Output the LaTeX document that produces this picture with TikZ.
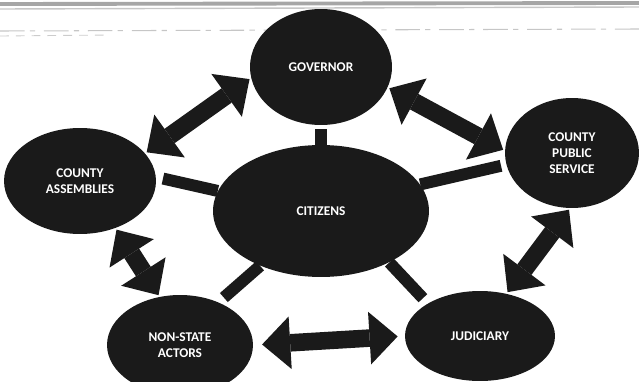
\documentclass[tikz,border=0pt]{standalone}
\usepackage{fontspec}
\setmainfont{Carlito}
\usetikzlibrary{arrows.meta,shapes.geometric}
\definecolor{ink}{HTML}{1A1A1A}
\begin{document}
\begin{tikzpicture}[x=0.02cm,y=-0.02cm,
  blob/.style={ellipse,fill=ink,inner sep=0pt,text=white,align=center,
    font=\fontsize{7.6}{9}\selectfont\bfseries},
  bar/.style={draw=ink,line width=6.8pt},
  barrow/.style={draw=ink,line width=10pt,
    {Triangle[length=16pt,width=30pt,line width=0pt]}-{Triangle[length=16pt,width=30pt,line width=0pt]},
    shorten <=1pt,shorten >=1pt}]
\useasboundingbox (0,0) rectangle (639,382);
% scanner streaks at the top
\draw[gray!70,line width=2.2pt] (0,4) -- (639,3);
\draw[gray!45,line width=0.8pt] (0,9) -- (639,7);
\draw[gray!45,line width=0.6pt,dash pattern=on 14pt off 3pt on 3pt off 5pt] (0,31) -- (639,29);
\draw[gray!40,line width=0.5pt,dash pattern=on 5pt off 4pt] (0,36) -- (110,35);
% nodes
\node[blob,minimum width=2.84cm,minimum height=2.32cm] (gov) at (321,67) {GOVERNOR};
\node[blob,minimum width=3.04cm,minimum height=2.12cm] (ca) at (80,181) {COUNTY\\ASSEMBLIES};
\node[blob,minimum width=2.68cm,minimum height=2.2cm] (cps) at (572,153) {COUNTY\\PUBLIC\\SERVICE};
\node[blob,minimum width=4.32cm,minimum height=2.64cm] (cit) at (321,211) {CITIZENS};
\node[blob,minimum width=2.92cm,minimum height=2.0cm] (nsa) at (180,345) {NON-STATE\\ACTORS};
\node[blob,minimum width=3.0cm,minimum height=1.8cm] (jud) at (480,336) {JUDICIARY};
% bars from citizens
\draw[bar,shorten <=-2pt,shorten >=2pt] (cit.north) -- (gov.south);
\draw[bar,shorten >=4pt] (cit.169) -- (ca.3);
\draw[bar,shorten >=3pt] (cit.15) -- (cps.190);
\draw[bar,shorten >=4pt] (cit.222) -- (nsa.48);
\draw[bar,shorten >=4pt] (cit.323) -- (jud.148);
% double block arrows
\draw[barrow] (ca.23) -- (gov.189);
\draw[barrow] (gov.343) -- (cps.178);
\draw[barrow] (cps.268) -- (jud.58);
\draw[barrow] (ca.307) -- (nsa.113);
\draw[barrow,shorten <=5pt,shorten >=4pt] (nsa.east) -- (jud.west);
\end{tikzpicture}
\end{document}
